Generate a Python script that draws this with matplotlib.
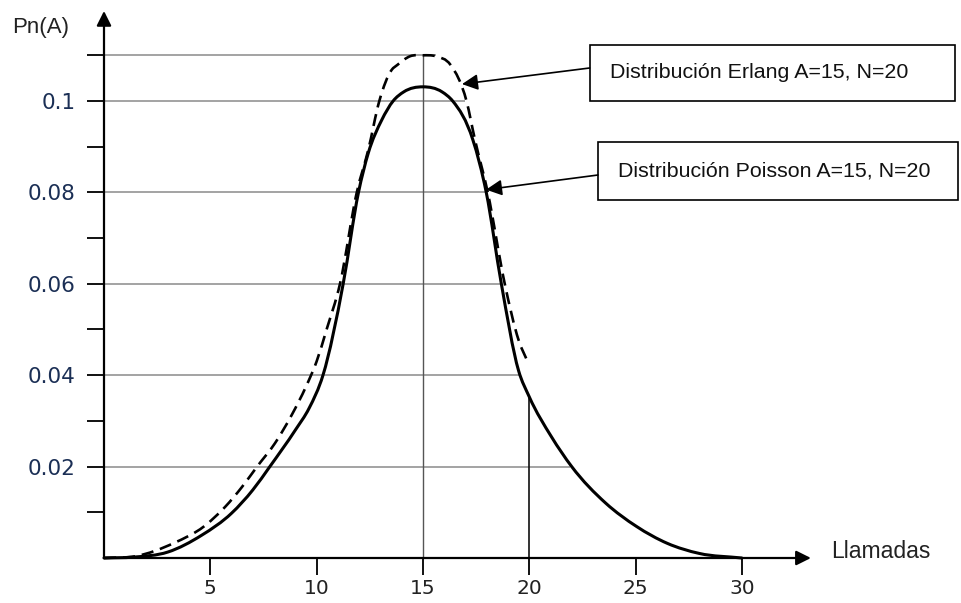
import numpy as np
import matplotlib
matplotlib.use("Agg")
import matplotlib.pyplot as plt
from matplotlib.path import Path
from matplotlib.patches import PathPatch, Rectangle

# ---------------- data ----------------
poisson_x = [0, 1.4, 3.0, 4.6, 6.0, 7.0, 7.8, 9.0, 9.65, 10.3, 11.25, 11.97,
             12.43, 13.06, 13.6, 14.1, 15.0, 15.9, 16.4, 17.35, 17.98, 18.69,
             19.5, 20.0, 21.05, 22.0, 23.6, 25.05, 26.5, 28.0, 30.0]
poisson_y = [0.0, 0.0002, 0.0013, 0.005, 0.0098, 0.0149, 0.02, 0.028, 0.0328,
             0.040, 0.060, 0.080, 0.0886, 0.0958, 0.100, 0.1020, 0.1031, 0.1020,
             0.100, 0.0915, 0.080, 0.060, 0.041, 0.0353, 0.0265, 0.020, 0.012,
             0.0069, 0.0032, 0.001, 0.0]

erlang_x = [0, 1.5, 3.3, 4.7, 5.7, 6.5, 7.2, 8.04, 8.83, 9.5, 10.0, 10.47,
            11.1, 11.89, 12.43, 12.95, 13.53, 13.8, 14.4, 15.0, 15.6, 16.3,
            17.05, 17.45, 18.05, 18.85, 19.5, 19.95]
erlang_y = [0.0, 0.0004, 0.0033, 0.0069, 0.0112, 0.0156, 0.020, 0.0251, 0.0313,
            0.0375, 0.043, 0.050, 0.060, 0.080, 0.0893, 0.100, 0.1068, 0.1079,
            0.1098, 0.110, 0.1098, 0.1079, 0.100, 0.0915, 0.080, 0.060, 0.0477,
            0.0427]

x_ticks = [5, 10, 15, 20, 25, 30]
y_major = [0.02, 0.04, 0.06, 0.08, 0.1, 0.11]
y_major_labels = ["0.02", "0.04", "0.06", "0.08", "0.1", ""]
y_minor = [0.01, 0.03, 0.05, 0.07, 0.09]

grid_levels = [0.02, 0.04, 0.06, 0.08, 0.1, 0.11]
grid_ends = [21.9, 19.55, 18.65, 17.95, 17.0, 15.6]

label_erlang = "Distribución Erlang A=15, N=20"
label_poisson = "Distribución Poisson A=15, N=20"
xlabel = "Llamadas"
ylabel = "Pn(A)"

# ---------------- helpers ----------------
def smooth_path(xs, ys):
    """Bezier path through the given points (cubic Hermite with
    three-point slope estimates), drawn by matplotlib's Path."""
    x = np.asarray(xs, float)
    y = np.asarray(ys, float)
    n = len(x)
    h = np.diff(x)
    d = np.diff(y) / h
    m = np.zeros(n)
    m[0] = d[0]
    m[-1] = d[-1]
    for i in range(1, n - 1):
        m[i] = (h[i - 1] * d[i] + h[i] * d[i - 1]) / (h[i - 1] + h[i])
    verts = [(x[0], y[0])]
    codes = [Path.MOVETO]
    for i in range(n - 1):
        c1 = (x[i] + h[i] / 3, y[i] + m[i] * h[i] / 3)
        c2 = (x[i + 1] - h[i] / 3, y[i + 1] - m[i + 1] * h[i] / 3)
        verts += [c1, c2, (x[i + 1], y[i + 1])]
        codes += [Path.CURVE4] * 3
    return Path(verts, codes)

W, H = 961, 603
fig = plt.figure(figsize=(W / 100, H / 100), dpi=100)
ax = fig.add_axes([0, 0, 1, 1])

# pixel mapping: x=0 at px 104, 21.26 px/unit ; y=0 at py 558, 4570 px/unit
ax.set_xlim(-104 / 21.26, (W - 104) / 21.26)
ax.set_ylim(-(H - 558) / 4570, 558 / 4570)
ax.patch.set_visible(False)

for s in ["top", "right"]:
    ax.spines[s].set_visible(False)
ax.spines["left"].set_position(("data", 0))
ax.spines["bottom"].set_position(("data", 0))
ax.spines["left"].set_visible(False)
ax.spines["bottom"].set_visible(False)

ax.set_xticks(x_ticks)
ax.set_xticklabels([str(v) for v in x_ticks], fontfamily="DejaVu Sans",
                   fontsize=14.5, color="#222222")
ax.set_yticks(y_major)
ax.set_yticklabels(y_major_labels, fontfamily="DejaVu Sans", fontsize=15.5,
                   color="#1b2f55")
ax.set_yticks(y_minor, minor=True)
ax.tick_params(axis="x", direction="out", length=12, width=1.4, pad=3.0,
               color="#111111")
ax.tick_params(axis="y", which="both", direction="out", length=12.2, width=1.4,
               pad=8.0, color="#111111")

# gridlines (drawn to where they meet the curves)
for lvl, end in zip(grid_levels, grid_ends):
    ax.plot([0, end], [lvl, lvl], color="#8a8a8a", lw=1.1, zorder=1,
            solid_capstyle="butt")
ax.plot([15, 15], [0, 0.11], color="#555555", lw=1.0, zorder=1)
ax.plot([20, 20], [0, 0.0355], color="#111111", lw=1.2, zorder=1)

# axes with arrows
ax.annotate("", xy=(33.25, 0), xytext=(0, 0),
            arrowprops=dict(arrowstyle="-|>", color="black", lw=1.6,
                            mutation_scale=22, shrinkA=0, shrinkB=0), zorder=3)
ax.annotate("", xy=(0, 0.1197), xytext=(0, 0),
            arrowprops=dict(arrowstyle="-|>", color="black", lw=1.6,
                            mutation_scale=22, shrinkA=0, shrinkB=0), zorder=3)

# curves
ax.add_patch(PathPatch(smooth_path(poisson_x, poisson_y), fill=False,
                       edgecolor="black", lw=2.2, zorder=4, capstyle="round"))
ax.add_patch(PathPatch(smooth_path(erlang_x, erlang_y), fill=False,
                       edgecolor="black", lw=1.9, zorder=4,
                       linestyle=(0, (4.6, 2.6))))

# axis labels
fig.text(12 / W, 1 - 27 / H, ylabel, fontfamily="Liberation Sans",
         fontsize=16, color="#222222", ha="left", va="center")
fig.text(831 / W, 1 - 551 / H, xlabel, fontfamily="Liberation Sans",
         fontsize=16.5, color="#222222", ha="left", va="center")

# annotation boxes
fig.patches.append(Rectangle((589.6 / W, 1 - 101 / H), (955 - 589.6) / W,
                             (101 - 44.7) / H, transform=fig.transFigure,
                             fill=False, edgecolor="black", lw=1.2))
fig.patches.append(Rectangle((598 / W, 1 - 200.4 / H), (958 - 598) / W,
                             (200.4 - 141.7) / H, transform=fig.transFigure,
                             fill=False, edgecolor="black", lw=1.2))
fig.text(610 / W, 1 - 72 / H, label_erlang, fontfamily="Liberation Sans",
         fontsize=15.4, ha="left", va="center", color="#111111")
fig.text(618 / W, 1 - 171 / H, label_poisson, fontfamily="Liberation Sans",
         fontsize=15.4, ha="left", va="center", color="#111111")

ax.annotate("", xy=(16.84, 0.1037), xycoords="data",
            xytext=(589.6 / W, 1 - 68 / H), textcoords="figure fraction",
            arrowprops=dict(arrowstyle="-|>", color="black", lw=1.2,
                            mutation_scale=24, shrinkA=0, shrinkB=0), zorder=5)
ax.annotate("", xy=(17.97, 0.0806), xycoords="data",
            xytext=(598 / W, 1 - 175 / H), textcoords="figure fraction",
            arrowprops=dict(arrowstyle="-|>", color="black", lw=1.2,
                            mutation_scale=24, shrinkA=0, shrinkB=0), zorder=5)

fig.savefig("out.png", dpi=100, facecolor="white")
